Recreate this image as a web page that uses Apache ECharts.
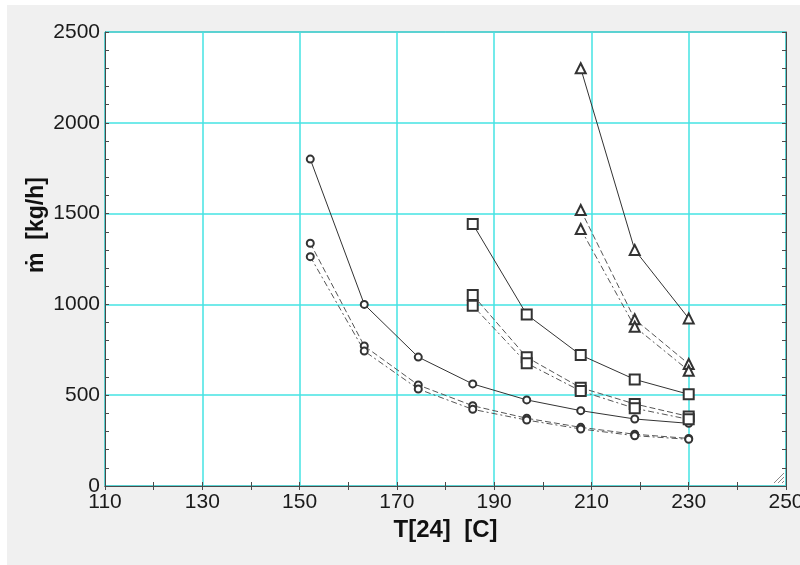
<!DOCTYPE html>
<html>
<head>
<meta charset="utf-8">
<script src="https://cdn.jsdelivr.net/npm/echarts@6/dist/echarts.min.js"></script>
<style>
html,body{margin:0;padding:0;background:#fff;overflow:hidden;}
#chart{width:800px;height:565px;background:#f0f0f0;box-shadow:inset 7px 5px 0 #ffffff;}
</style>
</head>
<body>
<div id="chart"></div>
<script>
// ---- data ----
var xCircle = [152.2, 163.3, 174.4, 185.6, 196.7, 207.8, 218.9, 230];
var circleSolid   = [1800, 1000, 710, 562, 474, 415, 369, 345];
var circleDash    = [1337, 771, 556, 442, 373, 323, 285, 262];
var circleDashDot = [1263, 743, 534, 422, 363, 314, 277, 257];

var xSquare = [185.6, 196.7, 207.8, 218.9, 230];
var squareSolid   = [1443, 944, 721, 587, 505];
var squareDash    = [1052, 709, 541, 452, 383];
var squareDashDot = [993, 676, 523, 428, 367];

var xTriangle = [207.8, 218.9, 230];
var triSolid   = [2300, 1300, 923];
var triDash    = [1520, 918, 672];
var triDashDot = [1415, 877, 635];

var xTickLabels = ['110','130','150','170','190','210','230','250'];
var yTickLabels = ['0','500','1000','1500','2000','2500'];
var xTitle = 'T[24]  [C]';
var yTitle = 'ṁ  [kg/h]';

// ---- build ----
function pairs(xs, ys){ return xs.map(function(x,i){ return [x, ys[i]]; }); }
var FONT = '"Liberation Sans", Arial, "DejaVu Sans", sans-serif';
var CYAN = '#45e3e3';
var AX = '#4a4a4a';

function mk(xs, ys, symbol, size, dash){
  return {
    type: 'line',
    data: pairs(xs, ys),
    symbol: symbol,
    symbolSize: size,
    showSymbol: true,
    animation: false,
    lineStyle: { color: dash ? '#555' : '#333', width: 1, type: dash || 'solid' },
    itemStyle: { color: '#333', borderWidth: 1 },
    z: 3
  };
}
var DASH = [6, 3];
var DASHDOT = [6, 3, 2, 3];

var series = [
  mk(xCircle, circleSolid, 'emptyCircle', 7, null),
  mk(xCircle, circleDash, 'emptyCircle', 7, DASH),
  mk(xCircle, circleDashDot, 'emptyCircle', 7, DASHDOT),
  mk(xSquare, squareSolid, 'emptyRect', 10, null),
  mk(xSquare, squareDash, 'emptyRect', 10, DASH),
  mk(xSquare, squareDashDot, 'emptyRect', 10, DASHDOT),
  mk(xTriangle, triSolid, 'emptyTriangle', 10, null),
  mk(xTriangle, triDash, 'emptyTriangle', 10, DASH),
  mk(xTriangle, triDashDot, 'emptyTriangle', 10, DASHDOT)
];

function labelFmt(list){
  return function(v){ var s = String(Math.round(v)); return list.indexOf(s) >= 0 ? s : ''; };
}

var chart = echarts.init(document.getElementById('chart'), null, {renderer: 'canvas'});
chart.setOption({
  backgroundColor: 'transparent',
  animation: false,
  grid: { left: 105, top: 32, right: 14, bottom: 79, containLabel: false, outerBoundsMode: 'none',
          show: true, backgroundColor: '#ffffff', borderColor: AX, borderWidth: 1 },
  xAxis: [{
    type: 'value', min: 110, max: 250, interval: 20, position: 'bottom',
    axisLine: { show: true, lineStyle: { color: AX, width: 1 } },
    axisTick: { show: true, inside: true, length: 4, lineStyle: { color: AX } },
    minorTick: { show: true, splitNumber: 2, length: 4, lineStyle: { color: AX } },
    splitLine: { show: true, lineStyle: { color: CYAN, width: 1.5 } },
    axisLabel: { fontSize: 21, color: '#1a1a1a', fontFamily: FONT, margin: 6, hideOverlap: false, formatter: labelFmt(xTickLabels) },
    name: xTitle, nameLocation: 'middle', nameGap: 21,
    nameTextStyle: { fontSize: 24, fontWeight: 'bold', color: '#111', fontFamily: FONT }
  }, {
    type: 'value', min: 110, max: 250, interval: 20, position: 'top',
    axisLine: { show: true, lineStyle: { color: AX, width: 1 } },
    axisTick: { show: true, inside: true, length: 4, lineStyle: { color: AX } },
    minorTick: { show: true, splitNumber: 2, length: 4, lineStyle: { color: AX } },
    splitLine: { show: false }, axisLabel: { show: false }
  }],
  yAxis: [{
    type: 'value', min: 0, max: 2500, interval: 500, position: 'left',
    axisLine: { show: true, lineStyle: { color: AX, width: 1 } },
    axisTick: { show: true, inside: true, length: 4, lineStyle: { color: AX } },
    minorTick: { show: true, splitNumber: 5, length: 4, lineStyle: { color: AX } },
    splitLine: { show: true, lineStyle: { color: CYAN, width: 1.5 } },
    axisLabel: { fontSize: 21, color: '#1a1a1a', fontFamily: FONT, margin: 5, formatter: labelFmt(yTickLabels) }
  }, {
    type: 'value', min: 0, max: 2500, interval: 500, position: 'right',
    axisLine: { show: true, lineStyle: { color: AX, width: 1 } },
    axisTick: { show: true, inside: true, length: 4, lineStyle: { color: AX } },
    minorTick: { show: true, splitNumber: 5, length: 4, lineStyle: { color: AX } },
    splitLine: { show: false }, axisLabel: { show: false }
  }],
  graphic: [
    { type: 'text', x: 37, y: 225, rotation: Math.PI / 2, silent: true,
      style: { text: yTitle, font: 'bold 23px ' + FONT, fill: '#111', textAlign: 'center', textVerticalAlign: 'middle' } },
    { type: 'line', silent: true, z: 10, shape: { x1: 784, y1: 473, x2: 774, y2: 483 }, style: { stroke: '#888', lineWidth: 1 } },
    { type: 'line', silent: true, z: 10, shape: { x1: 784, y1: 477, x2: 778, y2: 483 }, style: { stroke: '#888', lineWidth: 1 } },
    { type: 'line', silent: true, z: 10, shape: { x1: 784, y1: 481, x2: 782, y2: 483 }, style: { stroke: '#888', lineWidth: 1 } }
  ],
  series: series
});
</script>
</body>
</html>
